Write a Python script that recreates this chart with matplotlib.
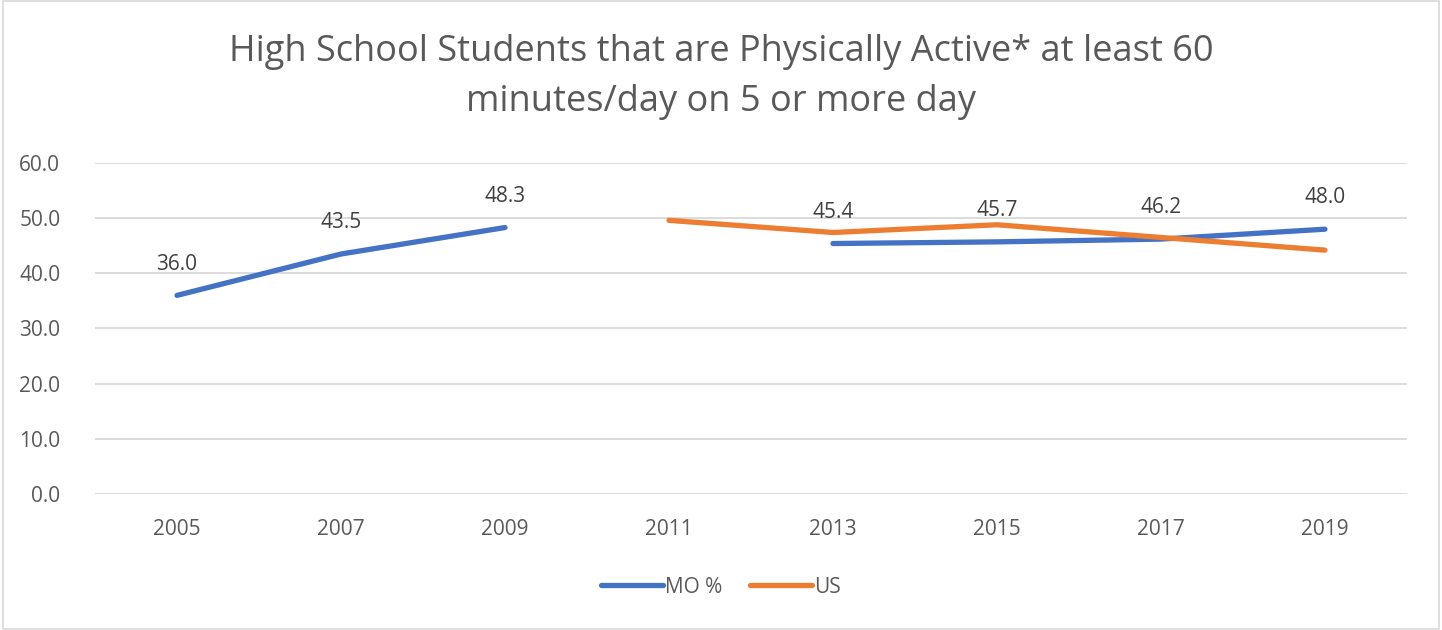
import numpy as np
import matplotlib
matplotlib.use("Agg")
import matplotlib.pyplot as plt
from matplotlib.patches import Rectangle

years = ["2005", "2007", "2009", "2011", "2013", "2015", "2017", "2019"]
mo = [36.0, 43.5, 48.3, np.nan, 45.4, 45.7, 46.2, 48.0]
us = [np.nan, np.nan, np.nan, 49.6, 47.4, 48.8, 46.5, 44.2]

plt.rcParams["font.family"] = ["Open Sans", "DejaVu Sans"]
txt = "#595959"

fig = plt.figure(figsize=(14.42, 6.3), dpi=100)
ax = fig.add_axes([0.0659, 0.2159, 0.9098, 0.5254])

x = np.arange(len(years))
ax.plot(x, mo, color="#4472c4", lw=3.8, solid_capstyle="round", label="MO %", zorder=3)
ax.plot(x, us, color="#ed7d31", lw=3.8, solid_capstyle="round", label="US", zorder=3)

for i, v in enumerate(mo):
    if not np.isnan(v):
        ax.annotate(f"{v:.1f}", (i, v), xytext=(0, 15), textcoords="offset points",
                    ha="center", va="bottom", fontsize=15, color="#404040")

ax.set_xlim(-0.5, len(years) - 0.5)
ax.set_ylim(0, 60)
ax.set_yticks(np.arange(0, 61, 10))
ax.set_yticklabels([f"{v:.1f}" for v in np.arange(0, 61, 10)])
ax.set_xticks(x)
ax.set_xticklabels(years)
ax.tick_params(length=0, labelsize=15, labelcolor=txt, pad=18)
ax.tick_params(axis="y", pad=25)
ax.grid(axis="y", color="#d9d9d9", lw=1.3)
ax.set_axisbelow(True)
for s in ax.spines.values():
    s.set_visible(False)

fig.text(0.5, 0.917, "High School Students that are Physically Active* at least 60",
         ha="center", va="center", fontsize=26, color=txt)
fig.text(0.5, 0.838, "minutes/day on 5 or more day",
         ha="center", va="center", fontsize=26, color=txt)

fig.legend(loc="center", bbox_to_anchor=(0.5, 0.068), ncol=2, frameon=False,
           fontsize=15, labelcolor=txt, handlelength=3.0, columnspacing=1.3,
           handletextpad=0.1)

fig.patches.append(Rectangle((0.002, 0.002), 0.996, 0.996, transform=fig.transFigure,
                             fill=False, edgecolor="#d9d9d9", lw=1.2))

fig.savefig("out.png", dpi=100, facecolor="white")
